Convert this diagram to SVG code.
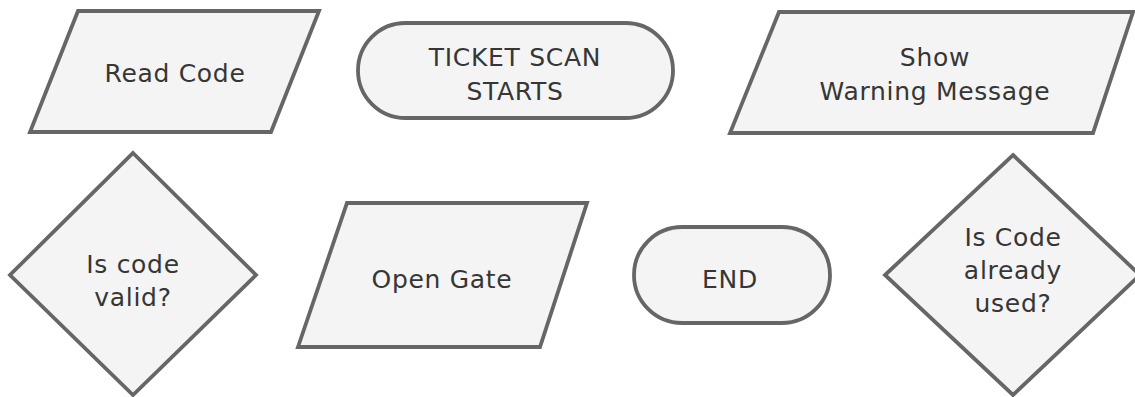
<svg xmlns="http://www.w3.org/2000/svg" width="1135" height="397" viewBox="0 0 1135 397">
  <style>
    .shape { fill: #f4f4f4; stroke: #666666; stroke-width: 3.8; stroke-linejoin: miter; }
    .label { font-family: "DejaVu Sans", Verdana, sans-serif; font-size: 25px; fill: #363636; text-anchor: middle; letter-spacing: 0.7px; }
  </style>
  <rect width="1135" height="397" fill="#ffffff"/>

  <g id="read-code">
    <polygon class="shape" points="78,11 319,11 271,132 30,132"/>
    <text class="label" x="175" y="82">Read Code</text>
  </g>

  <g id="ticket-scan-starts">
    <rect class="shape" x="358" y="23" width="315" height="95" rx="47.5" ry="47.5"/>
    <text class="label" x="515" y="66">TICKET SCAN</text>
    <text class="label" x="515" y="100">STARTS</text>
  </g>

  <g id="show-warning">
    <polygon class="shape" points="779,12 1133,12 1093,133 730,133"/>
    <text class="label" x="935" y="66">Show</text>
    <text class="label" x="935" y="100">Warning Message</text>
  </g>

  <g id="is-code-valid">
    <polygon class="shape" points="133,153 256,275 133,395 10,275"/>
    <text class="label" x="133" y="273">Is code</text>
    <text class="label" x="133" y="306">valid?</text>
  </g>

  <g id="open-gate">
    <polygon class="shape" points="347,203 587,203 540,347 298,347"/>
    <text class="label" x="442" y="288">Open Gate</text>
  </g>

  <g id="end">
    <rect class="shape" x="634" y="227" width="196" height="96" rx="48" ry="48"/>
    <text class="label" x="730" y="288">END</text>
  </g>

  <g id="is-code-used">
    <polygon class="shape" points="1013,155 1140,275 1013,395 885,275"/>
    <text class="label" x="1013" y="246">Is Code</text>
    <text class="label" x="1013" y="279">already</text>
    <text class="label" x="1013" y="312">used?</text>
  </g>

  <g id="connectors"></g>
</svg>
